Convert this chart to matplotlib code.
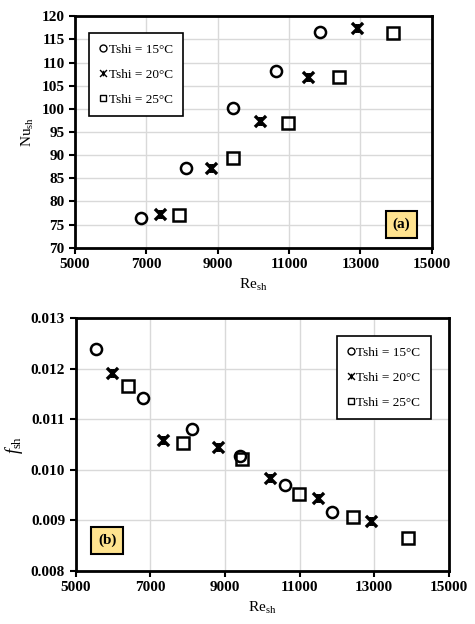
import matplotlib
matplotlib.use('Agg')
import matplotlib.pyplot as plt
from matplotlib.path import Path
from matplotlib.lines import Line2D

# Nu_sh vs Re_sh (panel a)
re_a_15 = [6840, 8110, 9430, 10640, 11870]
nu_15 = [76.5, 87.3, 100.1, 108.2, 116.6]
re_a_20 = [7380, 8800, 10180, 11520, 12890]
nu_20 = [77.3, 87.3, 97.4, 106.9, 117.5]
re_a_25 = [7900, 9430, 10960, 12400, 13910]
nu_25 = [77.0, 89.3, 96.9, 106.9, 116.4]

# f_sh vs Re_sh (panel b)
re_b_15 = [5540, 6810, 8115, 9400, 10610, 11875]
f_15 = [0.01239, 0.01142, 0.01081, 0.01028, 0.00971, 0.00917]
re_b_20 = [5980, 7350, 8820, 10205, 11500, 12920]
f_20 = [0.01192, 0.01059, 0.01046, 0.00983, 0.00944, 0.00898]
re_b_25 = [6410, 7890, 9455, 10975, 12430, 13900]
f_25 = [0.01166, 0.01054, 0.01022, 0.00953, 0.00906, 0.00866]

labels = ['Tshi = 15\u00b0C', 'Tshi = 20\u00b0C', 'Tshi = 25\u00b0C']

plt.rcParams['font.family'] = ['Liberation Serif', 'DejaVu Serif']
plt.rcParams['mathtext.fontset'] = 'custom'
plt.rcParams['mathtext.rm'] = 'Liberation Serif'
plt.rcParams['mathtext.it'] = 'Liberation Serif:italic'
plt.rcParams['mathtext.bf'] = 'Liberation Serif:bold'

# Excel-like star: an X with a vertical bar
star = Path([(-1, -1), (1, 1), (-1, 1), (1, -1), (0, -0.8), (0, 0.8)],
            [Path.MOVETO, Path.LINETO, Path.MOVETO, Path.LINETO,
             Path.MOVETO, Path.LINETO])

styles = [dict(marker='o', ms=8, mew=1.8),
          dict(marker=star, ms=8, mew=2.4),
          dict(marker='s', ms=8, mew=1.8)]


def style_axes(ax, xlim, ylim, yticks, yfmt):
    ax.set_xlim(*xlim)
    ax.set_ylim(*ylim)
    ax.set_xticks(range(5000, 15001, 2000))
    ax.set_yticks(yticks)
    ax.set_yticklabels([yfmt.format(v) for v in yticks])
    ax.grid(True, color='#d9d9d9', lw=1)
    ax.set_axisbelow(True)
    for s in ax.spines.values():
        s.set_linewidth(2)
        s.set_color('black')
    ax.tick_params(direction='out', length=4, width=1.5, labelsize=11,
                   top=False, right=False)
    for t in ax.get_xticklabels() + ax.get_yticklabels():
        t.set_fontweight('bold')


def scatter(ax, xs, ys):
    for x, y, st in zip(xs, ys, styles):
        ax.plot(x, y, ls='none', color='black', mfc='none', mec='black', **st)


def legend(ax, loc, anchor):
    handles = [Line2D([], [], ls='none', color='black', mfc='none', mec='black',
                      marker=st['marker'], ms=5, mew=1.0) for st in styles]
    lg = ax.legend(handles, labels, loc=loc, bbox_to_anchor=anchor,
                   fancybox=False, edgecolor='black', framealpha=1,
                   handlelength=0.6, handletextpad=0.1, labelspacing=0.95,
                   borderpad=0.8, fontsize=9.5)
    lg.get_frame().set_linewidth(1.2)


fig = plt.figure(figsize=(4.75, 6.24), dpi=100)

ax1 = fig.add_axes([0.158, 0.603, 0.751, 0.371])
scatter(ax1, [re_a_15, re_a_20, re_a_25], [nu_15, nu_20, nu_25])
style_axes(ax1, (5000, 15000), (70, 120), list(range(70, 121, 5)), '{:d}')
ax1.set_xlabel(r'Re$_{\rm sh}$', fontsize=11, labelpad=4)
ax1.set_ylabel(r'Nu$_{\rm sh}$', fontsize=11, labelpad=4)
legend(ax1, 'upper left', (0.02, 0.955))
ax1.text(0.915, 0.1, '(a)', transform=ax1.transAxes, ha='center', va='center',
         fontsize=11, fontweight='bold',
         bbox=dict(boxstyle='square,pad=0.45', fc='#ffe38f', ec='black', lw=1.5))

ax2 = fig.add_axes([0.159, 0.085, 0.786, 0.405])
scatter(ax2, [re_b_15, re_b_20, re_b_25], [f_15, f_20, f_25])
yt = [0.008, 0.009, 0.010, 0.011, 0.012, 0.013]
style_axes(ax2, (5000, 15000), (0.008, 0.013), yt, '{:.3f}')
ax2.set_xlabel(r'Re$_{\rm sh}$', fontsize=11, labelpad=4)
ax2.set_ylabel(r'$f_{\rm sh}$', fontsize=13, labelpad=4)
legend(ax2, 'upper right', (0.97, 0.955))
ax2.text(0.085, 0.12, '(b)', transform=ax2.transAxes, ha='center', va='center',
         fontsize=11, fontweight='bold',
         bbox=dict(boxstyle='square,pad=0.45', fc='#ffe38f', ec='black', lw=1.5))

fig.savefig('out.png', dpi=100)
